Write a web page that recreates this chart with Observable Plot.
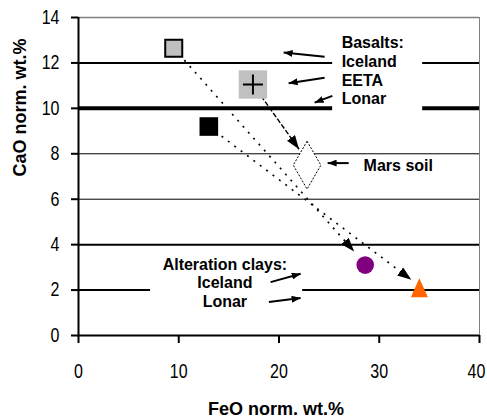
<!DOCTYPE html>
<html><head><meta charset="utf-8">
<script src="https://cdn.jsdelivr.net/npm/d3@7"></script>
<script src="https://cdn.jsdelivr.net/npm/@observablehq/plot@0.6"></script>
<style>body{margin:0;background:#fff}</style>
</head><body><div id="chart"></div>
<script>
// ---- data ----
const samples = ["Iceland basalt", "EETA basalt", "Lonar basalt", "Mars soil", "Iceland clay", "Lonar clay"];
const feo = [9.5, 17.4, 13.0, 22.8, 28.6, 34.0];
const cao = [12.65, 11.05, 9.2, 7.5, 3.1, 2.1];

const trendFrom = ["Iceland basalt", "EETA basalt", "Lonar basalt"];
const trendToFeO = [27.5, 22.0, 33.2];
const trendToCaO = [3.7, 8.2, 2.45];

const xTicks = [0, 10, 20, 30, 40];
const yTicks = [0, 2, 4, 6, 8, 10, 12, 14];
const gridVals = [2, 4, 6, 8, 10, 12];

const basaltLabels = ["Basalts:", "Iceland", "EETA", "Lonar"];
const basaltLabelX = [26.25, 26.25, 26.25, 26.25];
const basaltLabelY = [12.89, 12.05, 11.21, 10.41];

const clayLabels = ["Alteration clays:", "Iceland", "Lonar"];
const clayLabelX = [14.6, 14.6, 14.6];
const clayLabelY = [3.13, 2.32, 1.46];

const soilLabel = ["Mars soil"];
const soilLabelX = [28.44];
const soilLabelY = [7.47];

// pointer arrows: tail -> head
const pointerX1 = [24.55, 24.55, 25.32, 26.95, 19.16, 18.99];
const pointerY1 = [12.27, 11.35, 10.55, 7.59, 2.35, 1.47];
const pointerX2 = [20.46, 20.96, 23.55, 24.85, 22.16, 22.16];
const pointerY2 = [12.46, 11.11, 10.25, 7.59, 2.72, 1.65];

// white boxes behind label blocks (data units)
const boxX1 = [25.35, 7.19];
const boxX2 = [34.33, 22.36];
const boxY1 = [9.6, 1.0];
const boxY2 = [13.2, 3.6];

// ---- tables ----
const pts = samples.map((s, i) => ({s, x: feo[i], y: cao[i]}));
const ptOf = s => pts.find(p => p.s === s);
const trends = trendFrom.map((s, i) => ({x1: ptOf(s).x, y1: ptOf(s).y, x2: trendToFeO[i], y2: trendToCaO[i], s}));
const pointers = pointerX1.map((_, i) => ({x1: pointerX1[i], y1: pointerY1[i], x2: pointerX2[i], y2: pointerY2[i]}));
const boxes = boxX1.map((_, i) => ({x1: boxX1[i], x2: boxX2[i], y1: boxY1[i], y2: boxY2[i]}));
const bLab = basaltLabels.map((t, i) => ({t, x: basaltLabelX[i], y: basaltLabelY[i]}));
const cLab = clayLabels.map((t, i) => ({t, x: clayLabelX[i], y: clayLabelY[i]}));
const sLab = soilLabel.map((t, i) => ({t, x: soilLabelX[i], y: soilLabelY[i]}));

// custom symbols
const crossSym = {draw(ctx, size) { const r = Math.sqrt(size / Math.PI); ctx.moveTo(-r, 0); ctx.lineTo(r, 0); ctx.moveTo(0, -r); ctx.lineTo(0, r); }};
const triSym = {draw(ctx, size) { const r = Math.sqrt(size / Math.PI); ctx.moveTo(0, -r); ctx.lineTo(r * 0.9, r); ctx.lineTo(-r * 0.9, r); ctx.closePath(); }};

const gridWidth = v => v === 10 ? 4 : (v === 12 || v === 4 || v === 2) ? 2 : 1;
const pick = s => d => d.s === s;

const plot = Plot.plot({
  width: 487, height: 418,
  marginLeft: 78, marginRight: 8, marginTop: 17, marginBottom: 83,
  style: {fontFamily: "'Liberation Sans', Arial, sans-serif", background: "#fff", color: "#000"},
  x: {domain: [0, 40]},
  y: {domain: [0, 14]},
  marks: [
    Plot.ruleY(gridVals, {y: d => d, x1: 0, x2: 40, stroke: "#000", strokeWidth: gridWidth}),
    Plot.ruleY([14], {y: d => d, x1: 0, x2: 40, stroke: "#808080", strokeWidth: 1.5}),
    Plot.ruleX([40], {x: d => d, y1: 0, y2: 14, stroke: "#808080", strokeWidth: 1}),
    Plot.rect(boxes, {x1: "x1", x2: "x2", y1: "y1", y2: "y2", fill: "#fff"}),
    Plot.ruleX([0], {x: d => d, y1: 0, y2: 14, stroke: "#000", strokeWidth: 2}),
    Plot.ruleY([0], {y: d => d, x1: 0, x2: 40, stroke: "#000", strokeWidth: 2}),
    Plot.axisY({ticks: yTicks, tickSize: 7, tickPadding: 12, fontSize: 20, strokeWidth: 2, label: null, tickFormat: d => d}),
    Plot.axisX({ticks: xTicks, tickSize: 8, tickPadding: 20, fontSize: 20, strokeWidth: 2, label: null, tickFormat: d => d}),
    Plot.link(trends.filter(d => d.s !== "EETA basalt"), {x1: "x1", y1: "y1", x2: "x2", y2: "y2", stroke: "#000", strokeWidth: 1.6, strokeDasharray: "2,6", ariaDescription: "trend"}),
    Plot.link(trends.filter(d => d.s === "EETA basalt"), {x1: "x1", y1: "y1", x2: "x2", y2: "y2", stroke: "#000", strokeWidth: 1.4, strokeDasharray: "5,2", ariaDescription: "trend"}),
    Plot.link(pointers, {x1: "x1", y1: "y1", x2: "x2", y2: "y2", stroke: "#000", strokeWidth: 2, ariaDescription: "pointer"}),
    Plot.dot(pts.filter(pick("Iceland basalt")), {x: "x", y: "y", symbol: "square", r: 9.6, fill: "#c0c0c0", stroke: "#000", strokeWidth: 2}),
    Plot.dot(pts.filter(pick("EETA basalt")), {x: "x", y: "y", symbol: "square", r: 16, fill: "#c0c0c0", stroke: "none"}),
    Plot.dot(pts.filter(pick("EETA basalt")), {x: "x", y: "y", symbol: crossSym, r: 10, fill: "none", stroke: "#000", strokeWidth: 2}),
    Plot.dot(pts.filter(pick("Lonar basalt")), {x: "x", y: "y", symbol: "square", r: 10.5, fill: "#000", stroke: "none"}),
    Plot.dot(pts.filter(pick("Mars soil")), {x: "x", y: "y", symbol: "diamond", r: 14.5, fill: "#fff", stroke: "#000", strokeWidth: 1, strokeDasharray: "2,1.5"}),
    Plot.dot(pts.filter(pick("Iceland clay")), {x: "x", y: "y", symbol: "circle", r: 8.8, fill: "#800080", stroke: "none"}),
    Plot.dot(pts.filter(pick("Lonar clay")), {x: "x", y: "y", symbol: triSym, r: 9.5, fill: "#ff6600", stroke: "none"}),
    Plot.text(bLab, {x: "x", y: "y", text: "t", textAnchor: "start", lineAnchor: "middle", fontSize: 16, fontWeight: "bold", fill: "#000"}),
    Plot.text(cLab, {x: "x", y: "y", text: "t", textAnchor: "middle", lineAnchor: "middle", fontSize: 16, fontWeight: "bold", fill: "#000"}),
    Plot.text(sLab, {x: "x", y: "y", text: "t", textAnchor: "start", lineAnchor: "middle", fontSize: 16, fontWeight: "bold", fill: "#000"}),
    Plot.text(["FeO norm. wt.%"], {frameAnchor: "bottom", text: d => d, dy: 74, dx: -3, lineAnchor: "middle", fontSize: 18, fontWeight: "bold", fill: "#000"}),
    Plot.text(["CaO norm. wt.%"], {frameAnchor: "left", text: d => d, dx: -58, rotate: -90, lineAnchor: "middle", fontSize: 18, fontWeight: "bold", fill: "#000"})
  ]
});

// filled arrowheads
const ns = "http://www.w3.org/2000/svg";
const defs = document.createElementNS(ns, "defs");
function addMarker(id, len, wid) {
  const m = document.createElementNS(ns, "marker");
  m.setAttribute("id", id);
  m.setAttribute("viewBox", `0 0 ${len} ${wid}`);
  m.setAttribute("refX", len); m.setAttribute("refY", wid / 2);
  m.setAttribute("markerWidth", len); m.setAttribute("markerHeight", wid);
  m.setAttribute("markerUnits", "userSpaceOnUse");
  m.setAttribute("orient", "auto");
  const p = document.createElementNS(ns, "path");
  p.setAttribute("d", `M0,0L${len},${wid / 2}L0,${wid}Z`);
  p.setAttribute("fill", "#000");
  p.setAttribute("stroke", "none");
  m.appendChild(p);
  defs.appendChild(m);
}
addMarker("bighead", 14, 10);
addMarker("smallhead", 9, 7);
plot.insertBefore(defs, plot.firstChild);
Array.from(plot.querySelectorAll('g[aria-label="link"]')).forEach(g => {
  const id = g.getAttribute("aria-description") === "pointer" ? "smallhead" : "bighead";
  g.querySelectorAll("path").forEach(p => p.setAttribute("marker-end", `url(#${id})`));
});

document.getElementById("chart").appendChild(plot);

// narrow the tick labels (the reference uses a condensed face)
Array.from(plot.querySelectorAll("text")).forEach(t => {
  const g = t.closest("g[aria-label]");
  const lab = g ? g.getAttribute("aria-label") : "";
  if (!/tick label/.test(lab)) return;
  const w = t.getComputedTextLength();
  if (!(w > 0)) return;
  t.setAttribute("textLength", (w * 0.8).toFixed(1));
  t.setAttribute("lengthAdjust", "spacingAndGlyphs");
  if (/^x/.test(lab) && t.textContent === "40") t.setAttribute("dx", "-3");
});
</script>
</body></html>
